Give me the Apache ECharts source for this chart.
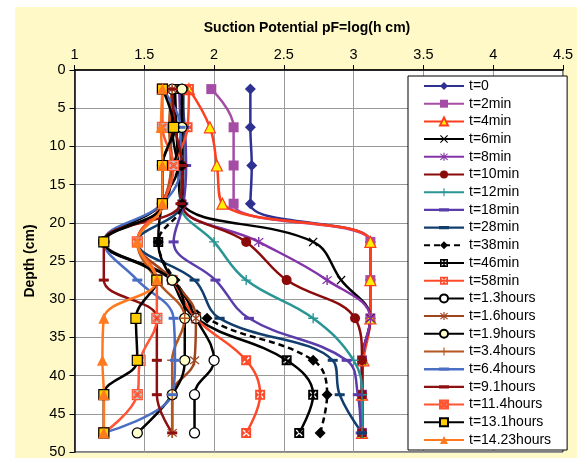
<!DOCTYPE html>
<html><head><meta charset="utf-8">
<script src="https://cdn.jsdelivr.net/npm/echarts@6/dist/echarts.min.js"></script>
<style>html,body{margin:0;padding:0;background:#fff}#c{width:579px;height:461px}</style>
</head><body><div id="c"></div>
<script>
// ---- data ----
const depths = [2.5, 7.5, 12.5, 17.5, 22.5, 27.5, 32.5, 38, 42.5, 47.5];
const xTicks = [1, 1.5, 2, 2.5, 3, 3.5, 4, 4.5];
const yTicks = [0, 5, 10, 15, 20, 25, 30, 35, 40, 45, 50];
const seriesNames = ['t=0','t=2min','t=4min','t=6min','t=8min','t=10min','t=12min','t=18min','t=28min','t=38min','t=46min','t=58min','t=1.3hours','t=1.6hours','t=1.9hours','t=3.4hours','t=6.4hours','t=9.1hours','t=11.4hours','t=13.1hours','t=14.23hours'];
const t0     = [2.26, 2.26, 2.27, 2.26, 3.12, 3.12, 3.12, 3.06, 3.06, 3.06];
const t2min  = [1.98, 2.14, 2.14, 2.14, 3.12, 3.12, 3.12, 3.06, 3.06, 3.06];
const t4min  = [1.82, 1.97, 2.02, 2.06, 3.12, 3.12, 3.12, 3.07, 3.06, 3.06];
const t6min  = [1.72, 1.70, 1.74, 1.77, 2.71, 2.91, 3.12, 3.06, 3.06, 3.06];
const t8min  = [1.75, 1.76, 1.77, 1.77, 2.32, 2.81, 3.12, 3.06, 3.06, 3.06];
const t10min = [1.78, 1.77, 1.77, 1.77, 2.23, 2.52, 3.01, 3.06, 3.06, 3.06];
const t12min = [1.77, 1.77, 1.77, 1.76, 2.00, 2.23, 2.71, 3.00, 3.06, 3.06];
const t18min = [1.76, 1.79, 1.80, 1.78, 1.71, 2.01, 2.25, 2.95, 3.03, 3.05];
const t28min = [1.78, 1.78, 1.78, 1.77, 1.45, 1.86, 2.04, 2.85, 2.90, 3.06];
const t38min = [1.77, 1.77, 1.77, 1.77, 1.60, 1.72, 1.95, 2.71, 2.81, 2.76];
const t46min = [1.72, 1.73, 1.74, 1.63, 1.60, 1.70, 1.87, 2.52, 2.71, 2.61];
const t58min = [1.82, 1.81, 1.71, 1.63, 1.45, 1.70, 1.87, 2.23, 2.33, 2.23];
const t1_3h  = [1.70, 1.72, 1.63, 1.63, 1.21, 1.70, 1.87, 2.00, 1.86, 1.86];
const t1_6h  = [1.70, 1.68, 1.70, 1.63, 1.45, 1.70, 1.87, 1.86, 1.70, 1.70];
const t1_9h  = [1.77, 1.77, 1.71, 1.63, 1.21, 1.70, 1.79, 1.79, 1.70, 1.45];
const t3_4h  = [1.70, 1.68, 1.69, 1.63, 1.45, 1.59, 1.79, 1.70, 1.70, 1.70];
const t6_4h  = [1.63, 1.76, 1.76, 1.63, 1.21, 1.45, 1.71, 1.72, 1.70, 1.21];
const t9_1h  = [1.70, 1.72, 1.77, 1.76, 1.21, 1.21, 1.59, 1.59, 1.59, 1.70];
const t11_4h = [1.63, 1.63, 1.71, 1.63, 1.45, 1.59, 1.59, 1.47, 1.45, 1.21];
const t13_1h = [1.63, 1.71, 1.63, 1.63, 1.21, 1.59, 1.44, 1.45, 1.21, 1.21];
const t14_23h= [1.63, 1.62, 1.63, 1.63, 1.45, 1.59, 1.21, 1.20, 1.21, 1.21];
const allValues = [t0,t2min,t4min,t6min,t8min,t10min,t12min,t18min,t28min,t38min,t46min,t58min,t1_3h,t1_6h,t1_9h,t3_4h,t6_4h,t9_1h,t11_4h,t13_1h,t14_23h];

// ---- styles ----
const FONT = 'Liberation Sans, Arial, sans-serif';
const X_SYM = 'path://M0.8 1.6L1.6 0.8L9.2 8.4L8.4 9.2Z M8.4 0.8L9.2 1.6L1.6 9.2L0.8 8.4Z';
const STAR_SYM = 'path://M0.8 1.6L1.6 0.8L9.2 8.4L8.4 9.2Z M8.4 0.8L9.2 1.6L1.6 9.2L0.8 8.4Z M4.4 0L5.6 0L5.6 10L4.4 10Z';
const PLUS_SYM = 'path://M4.3 0L5.7 0L5.7 10L4.3 10Z M0 4.3L10 4.3L10 5.7L0 5.7Z';
const XSQ_SYM = 'path://M0 0L10 0L10 10L0 10Z M4 5L1.5 7.5L2.5 8.5L5 6L7.5 8.5L8.5 7.5L6 5L8.5 2.5L7.5 1.5L5 4L2.5 1.5L1.5 2.5Z';
const DASH_SYM = 'path://M0 0L10 0L10 3L0 3Z';
const DASH_LEGEND = 'path://M0 0L0.01 0L0.01 0.01Z M39.99 9.99L40 9.99L40 10Z M0 3.8L40 3.8L40 6.2L0 6.2Z M15 3.4L25 3.4L25 6.6L15 6.6Z';
const styles = [
  {line:'#2E3192', sym:'diamond', size:11, fill:'#2E3192'},
  {line:'#A54DA5', sym:'rect', size:10, fill:'#A54DA5'},
  {line:'#FF3D1F', sym:'triangle', size:11, fill:'#FFF200', border:'#FF3D1F', bw:1.2},
  {line:'#000000', sym:X_SYM, size:9, fill:'#000000'},
  {line:'#8434A8', sym:STAR_SYM, size:10, fill:'#8434A8'},
  {line:'#8B0A0A', sym:'circle', size:10, fill:'#8B0A0A'},
  {line:'#2A9595', sym:PLUS_SYM, size:10, fill:'#2A9595'},
  {line:'#5A3DAA', sym:DASH_SYM, size:[10,3], fill:'#5A3DAA', dash:true},
  {line:'#123E6E', sym:DASH_SYM, size:[10,3], fill:'#123E6E', dash:true},
  {line:'#000000', sym:'diamond', size:11, fill:'#000000', dashed:true},
  {line:'#000000', sym:XSQ_SYM, size:10, fill:'#000000'},
  {line:'#FF4A2A', sym:XSQ_SYM, size:10, fill:'#FF4A2A'},
  {line:'#000000', sym:'circle', size:10, fill:'#FFFFFF', border:'#000000', bw:1.3},
  {line:'#A0461E', sym:STAR_SYM, size:10, fill:'#A0461E'},
  {line:'#000000', sym:'circle', size:10, fill:'#FFFFCC', border:'#000000', bw:1.3},
  {line:'#B5561E', sym:PLUS_SYM, size:10, fill:'#B5561E'},
  {line:'#4A6EC4', sym:DASH_SYM, size:[10,3], fill:'#4A6EC4', dash:true},
  {line:'#8E0F0F', sym:DASH_SYM, size:[10,3], fill:'#8E0F0F', dash:true},
  {line:'#FF5533', sym:XSQ_SYM, size:10, fill:'#C4C4C4', border:'#FF5533', bw:1.2},
  {line:'#000000', sym:'rect', size:10, fill:'#FFCC00', border:'#000000', bw:1.2},
  {line:'#FF7A1F', sym:'triangle', size:11, fill:'#FF7A1F'}
];

const series = seriesNames.map((name, k) => {
  const s = styles[k];
  return {
    name: name,
    type: 'line',
    smooth: 0.4,
    data: depths.map((d, i) => [allValues[k][i], d]),
    symbol: s.sym,
    symbolSize: s.size,
    showAllSymbol: true,
    lineStyle: {color: s.line, width: 2.5, type: s.dashed ? [6, 4] : 'solid'},
    itemStyle: {color: s.fill, borderColor: s.border || s.fill, borderWidth: s.bw || 0, opacity: 1},
    emphasis: {disabled: true},
    animation: false
  };
});

const legendData = seriesNames.map((name, k) => styles[k].dash ? {name: name, icon: DASH_LEGEND} : {name: name});

const chart = echarts.init(document.getElementById('c'), null, {renderer: 'canvas'});
chart.setOption({
  backgroundColor: '#ffffff',
  animation: false,
  graphic: [
    {type: 'rect', z: -100, shape: {x: 15, y: 7, width: 562, height: 451}, style: {fill: '#FFF9C7'}, silent: true},
    {type: 'text', z: 10, x: 307, y: 28, style: {text: 'Suction Potential pF=log(h cm)', font: 'bold 14px ' + FONT, fill: '#000', textAlign: 'center', textVerticalAlign: 'middle'}}
  ],
  grid: {left: 74.5, top: 70, right: 16, bottom: 9, show: true, backgroundColor: '#ffffff', borderColor: '#000', borderWidth: 1},
  xAxis: {
    type: 'value', position: 'top', min: xTicks[0], max: xTicks[xTicks.length - 1], interval: 0.5,
    axisLine: {show: true, onZero: false, lineStyle: {color: '#000', width: 1.5}},
    axisTick: {show: true, length: 5, lineStyle: {color: '#000'}},
    axisLabel: {fontFamily: FONT, fontSize: 14.5, color: '#000', margin: 8, formatter: v => String(v)},
    splitLine: {show: true, lineStyle: {color: '#999', width: 1}}
  },
  yAxis: {
    type: 'value', inverse: true, min: yTicks[0], max: yTicks[yTicks.length - 1], interval: 5,
    name: 'Depth (cm)', nameLocation: 'middle', nameGap: 37, nameRotate: 90,
    nameTextStyle: {fontFamily: FONT, fontSize: 14, fontWeight: 'bold', color: '#000'},
    axisLine: {show: true, onZero: false, lineStyle: {color: '#000', width: 1.5}},
    axisTick: {show: true, length: 5, lineStyle: {color: '#000'}},
    axisLabel: {fontFamily: FONT, fontSize: 14.5, color: '#000', margin: 9},
    splitLine: {show: true, lineStyle: {color: '#999', width: 1}}
  },
  legend: {
    orient: 'vertical', left: 408, top: 76, height: 380,
    data: legendData,
    itemWidth: 40, itemHeight: 10, itemGap: 3.7,
    padding: [3, 16, 3, 15],
    backgroundColor: '#ffffff', borderColor: '#000', borderWidth: 1,
    textStyle: {fontFamily: FONT, fontSize: 14, color: '#000'},
    selectedMode: false
  },
  series: series
});
</script>
</body></html>
